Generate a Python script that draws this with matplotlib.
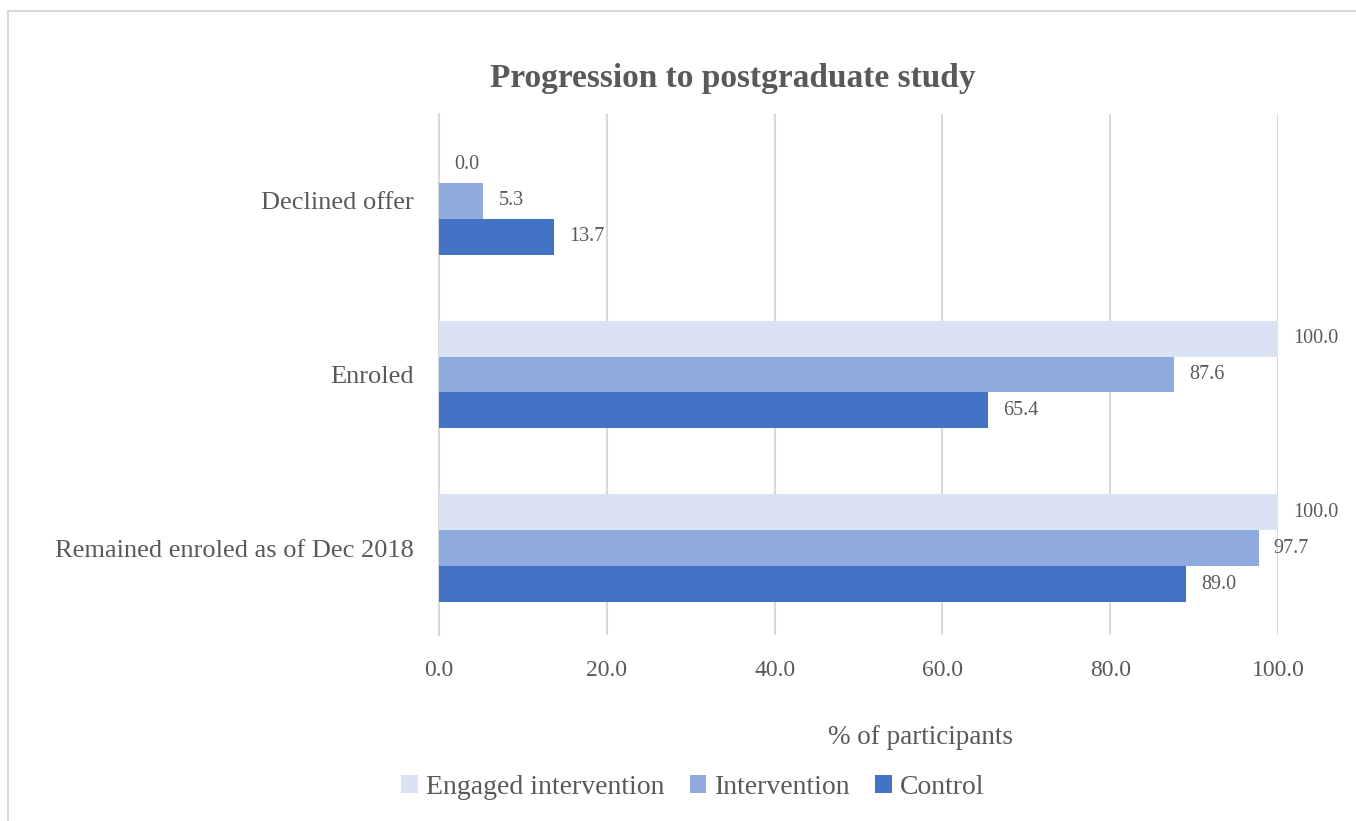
import matplotlib.pyplot as plt
from matplotlib.lines import Line2D
import numpy as np

# data
categories = ["Declined offer", "Enroled", "Remained enroled as of Dec 2018"]
series_names = ["Engaged intervention", "Intervention", "Control"]
engaged = [0.0, 100.0, 100.0]
intervention = [5.3, 87.6, 97.7]
control = [13.7, 65.4, 89.0]
x_ticks = [0, 20, 40, 60, 80, 100]

colors = ["#DAE3F3", "#8FAADC", "#4472C4"]
text_col = "#595959"
grid_col = "#D9D9D9"

plt.rcParams['font.family'] = ['Liberation Serif', 'DejaVu Serif']

W, H = 1356, 821
fig = plt.figure(figsize=(W / 100, H / 100), dpi=100)
ax = fig.add_axes([439 / W, 1 - 635 / H, (1278 - 439) / W, (635 - 114) / H])

y = np.arange(len(categories))
bh = 36 / 173.7
offsets = [-bh, 0, bh]
for vals, off, col, name in zip([engaged, intervention, control], offsets, colors, series_names):
    bars = ax.barh(y + off, vals, height=bh, color=col, label=name, zorder=3)
    for b, v in zip(bars, vals):
        ax.text(v + 1.8, b.get_y() + b.get_height() / 2, f"{v:.1f}",
                va="center", ha="left", fontsize=14.5, color=text_col, zorder=4)

ax.set_ylim(len(categories) - 0.5, -0.5)
ax.set_xlim(0, 100)
ax.set_yticks(y)
ax.set_yticklabels(categories, fontsize=19, color=text_col)
ax.set_xticks(x_ticks)
ax.set_xticklabels([f"{t:.1f}" for t in x_ticks], fontsize=17, color=text_col)
ax.tick_params(axis="both", length=0)
ax.tick_params(axis="x", pad=18)
ax.tick_params(axis="y", pad=18)
ax.grid(axis="x", color=grid_col, linewidth=1.5, zorder=0)
for s in ["top", "right", "bottom"]:
    ax.spines[s].set_visible(False)
ax.spines["left"].set_color(grid_col)
ax.spines["left"].set_linewidth(1.5)

# axis title sits right of the plot centre in the original
fig.text(920 / W, 1 - 737 / H, "% of participants", ha="center", va="center",
         fontsize=19.5, color=text_col)

fig.text(733 / W, 1 - 78 / H, "Progression to postgraduate study", ha="center", va="center",
         fontsize=24, fontweight="bold", color=text_col)

handles, labels = ax.get_legend_handles_labels()
fig.legend(handles, labels, loc="center", bbox_to_anchor=(693 / W, 1 - 787 / H), ncol=3,
           frameon=False, fontsize=20, handlelength=0.6, handleheight=0.6,
           handletextpad=0.3, columnspacing=0.9, labelcolor=text_col)

# chart border (only left/top visible in the crop)
fig.add_artist(Line2D([8 / W, 8 / W], [0, 1 - 11 / H], transform=fig.transFigure, color="#D9D9D9", lw=1.5))
fig.add_artist(Line2D([8 / W, 1], [1 - 11 / H, 1 - 11 / H], transform=fig.transFigure, color="#D9D9D9", lw=1.5))

fig.savefig("out.png", dpi=100, facecolor="white")
